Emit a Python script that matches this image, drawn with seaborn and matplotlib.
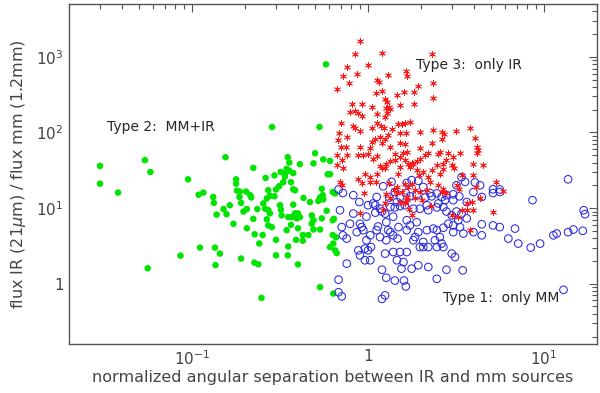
import numpy as np
import pandas as pd
import matplotlib
matplotlib.use('Agg')
import matplotlib.pyplot as plt
import seaborn as sns

# Type 2: MM+IR (green filled dots)
type2_sep = [0.030, 0.030, 0.038, 0.054, 0.058, 0.056, 0.095, 0.109, 0.116, 0.155,
             0.132, 0.133, 0.138, 0.151, 0.157, 0.164, 0.172, 0.178, 0.178, 0.180,
             0.187, 0.186, 0.190, 0.196, 0.205, 0.205, 0.203, 0.214, 0.217, 0.223,
             0.223, 0.227, 0.235, 0.241, 0.111, 0.135, 0.144, 0.086, 0.136, 0.190,
             0.226, 0.238, 0.248, 0.285, 0.53, 0.35, 0.357, 0.345, 0.41, 0.50,
             0.49, 0.557, 0.608, 0.59, 0.608, 0.262, 0.294, 0.319, 0.337, 0.357,
             0.376, 0.337, 0.33, 0.313, 0.30, 0.365, 0.376, 0.385, 0.271, 0.277,
             0.266, 0.294, 0.546, 0.553, 0.534, 0.522, 0.557, 0.63, 0.65, 0.43,
             0.468, 0.254, 0.26, 0.271, 0.277, 0.316, 0.32, 0.323, 0.376, 0.385,
             0.394, 0.40, 0.41, 0.394, 0.368, 0.352, 0.479, 0.49, 0.479, 0.546,
             0.582, 0.63, 0.64, 0.266, 0.271, 0.284, 0.365, 0.40, 0.345, 0.49,
             0.534, 0.458, 0.426, 0.426, 0.39, 0.252, 0.30, 0.63, 0.658, 0.352,
             0.608, 0.635, 0.65, 0.664, 0.30, 0.35, 0.40, 0.534, 0.635, 0.577]
type2_ratio = [36, 21, 16, 43, 30, 1.6, 24, 15, 16, 47,
               14, 11.7, 8.2, 9.7, 8.3, 10.9, 6.2, 24, 21, 17,
               16.5, 14, 11.7, 9, 9.7, 5.4, 16.5, 14.8, 13.8, 34,
               7.2, 4.5, 9.7, 3.4, 3.0, 3.0, 2.5, 2.35, 1.76, 2.15,
               1.9, 1.8, 0.65, 118, 118, 47, 40, 33, 38, 53,
               39, 44, 42, 28, 28, 25, 27, 30, 28, 31,
               29, 26, 22, 19.5, 17.6, 22, 17.7, 17.2, 17.2, 14.5,
               13.4, 14.3, 18, 14.8, 13.8, 12.4, 13, 16.3, 15.6, 13.6,
               12, 11.5, 9.8, 9.4, 8.5, 10.9, 9.5, 8.0, 11.1, 8.5,
               8.0, 8.5, 7.6, 7.3, 7.6, 7.6, 8.0, 6.9, 6.2, 7.3,
               9.2, 6.9, 7.2, 7.1, 5.9, 5.6, 6.0, 5.4, 5.1, 5.2,
               5.2, 4.4, 4.4, 3.7, 3.8, 4.4, 3.8, 4.4, 4.1, 3.1,
               3.05, 3.4, 2.76, 2.54, 2.37, 2.37, 1.8, 0.90, 0.74, 795]

# Type 1: only MM (blue open circles)
type1_sep = [0.68, 0.72, 1.22, 1.36, 1.66, 1.77, 1.93, 2.06, 3.18, 3.40,
             3.56, 4.05, 4.33, 5.13, 5.6, 13.7, 1.42, 1.64, 2.25,
             0.825, 1.12, 1.32, 1.52, 1.73, 1.89, 2.11, 2.30, 2.46, 2.62,
             2.79, 3.05, 3.30, 3.97, 4.43, 5.13, 5.6, 8.6,
             0.693, 0.825, 0.893, 1.0, 1.10, 1.17, 1.20, 1.34, 1.42, 1.52,
             1.62, 1.81, 1.97, 2.16, 2.20, 2.46, 2.68, 2.79, 2.99, 3.18,
             3.40, 4.43, 5.13, 5.6, 6.84, 6.27, 7.14, 8.4, 9.5, 11.3,
             11.8, 13.7, 14.7, 16.6, 16.8, 17.1,
             0.709, 0.757, 0.79, 0.863, 0.90, 0.92, 0.98, 1.03, 1.12, 1.14,
             1.17, 1.27, 1.30, 1.34, 1.39, 1.47, 1.49, 1.66, 1.66, 1.73,
             1.81, 1.85, 1.93, 2.06, 2.20, 2.16, 2.35, 2.46, 2.40, 2.56,
             2.62, 2.68, 3.05, 3.48, 3.97, 4.43,
             0.881, 0.90, 0.96, 1.0, 1.04, 0.96, 1.03, 1.25, 1.39, 1.52,
             1.66, 1.46, 1.59, 1.55, 1.77, 1.93, 1.97, 2.06, 2.46, 2.68,
             2.99, 3.12, 2.79, 3.45, 2.46, 2.20,
             0.68, 0.757, 1.20, 1.27, 1.42, 1.60, 1.64, 1.20, 1.25, 0.68,
             0.709, 12.9,
             1.07, 1.10, 1.25, 1.46, 2.51, 2.74, 3.05, 3.64, 3.64, 3.26,
             3.33, 3.05, 2.86, 1.89, 1.39, 1.27, 0.98, 0.94, 0.72]
type1_ratio = [17.6, 15.8, 19.4, 22.2, 21.5, 23.4, 22.9, 19, 20, 25.6,
               22.2, 21.8, 20, 17.7, 17.6, 24, 16.3, 15.8, 15.8,
               14.8, 14, 13.8, 14, 14.3, 14.8, 13.8, 14.3, 15.6, 14,
               14.8, 15.2, 14.3, 16.3, 14, 15.8, 16.3, 12.7,
               9.35, 8.45, 12, 10.9, 10.9, 9.8, 9.0, 10.3, 10.2, 10.6,
               10.9, 9.8, 9.8, 10.9, 9.35, 10.2, 10.3, 9.0, 8.0, 9.0,
               8.45, 6.1, 5.9, 5.6, 5.35, 3.95, 3.39, 3.0, 3.39, 4.36,
               4.6, 4.8, 5.2, 5.0, 9.35, 8.3,
               5.6, 3.95, 6.2, 4.8, 6.2, 5.6, 3.75, 4.36, 5.1, 5.7,
               4.14, 3.75, 5.1, 4.8, 4.36, 3.95, 5.6, 6.9, 5.1, 5.9,
               3.75, 4.14, 4.8, 3.56, 3.05, 5.1, 5.35, 5.1, 3.75, 4.14,
               3.39, 5.5, 4.8, 4.6, 4.8, 4.36,
               2.76, 2.37, 2.91, 2.76, 3.05, 2.04, 2.04, 2.5, 2.62, 2.62,
               2.62, 2.04, 1.93, 1.58, 1.58, 1.75, 3.05, 3.05, 3.05, 3.05,
               2.5, 2.25, 1.53, 1.5, 1.16, 1.66,
               1.13, 1.84, 1.53, 1.2, 1.1, 1.1, 0.92, 0.63, 0.70, 0.77,
               0.68, 0.83,
               11.5, 8.7, 8.45, 12, 11.5, 12.7, 12.7, 12, 7.3, 6.9,
               5.6, 5.9, 6.2, 6.5, 7.7, 6.5, 7.7, 5.1, 4.36]

# Type 3: only IR (red asterisks)
type3_sep = [0.90, 0.84, 1.20, 2.30, 0.757, 1.0, 0.718, 0.863, 0.78, 1.13,
             1.16, 1.30, 1.65, 1.66, 2.33, 1.92, 0.67,
             1.11, 1.20, 1.46, 1.25, 1.29, 1.61, 1.83, 2.33, 0.81, 0.92,
             1.05, 1.32, 1.51, 1.83, 0.79, 0.84, 0.88, 0.93, 1.25, 1.29,
             1.34, 1.12, 1.27,
             0.70, 0.825, 0.84, 0.90, 1.05, 1.13, 1.19, 1.24, 1.37, 1.49,
             1.55, 1.62, 1.73, 1.51, 1.65, 1.97, 2.35, 2.62, 3.15, 3.80,
             0.687, 0.757, 0.678, 0.70, 0.753, 0.90, 1.03, 1.05, 1.17, 1.20,
             1.34, 1.52, 1.62, 2.30, 2.64, 4.05, 4.15, 4.24, 1.30, 2.70,
             1.10, 1.25, 1.97,
             0.67, 0.757, 0.88, 0.94, 1.13, 1.07, 1.27, 1.34, 1.42, 1.52,
             1.59, 1.66, 1.62, 1.69, 1.81, 1.89, 1.97, 2.11, 2.20, 2.51,
             2.56, 2.86, 3.05, 2.68, 2.78, 2.99, 3.08, 3.97, 3.97, 4.52,
             0.67, 0.71, 0.96, 1.03, 1.12, 1.17, 1.20, 1.25, 1.52, 1.73,
             1.77, 1.89, 2.06, 2.20, 2.25, 0.693, 0.71, 0.88, 0.92, 1.03,
             1.11, 1.32, 5.36, 1.69, 1.0, 1.42, 3.33, 0.718, 1.49, 1.62,
             1.77, 1.96, 2.30, 2.46, 2.56, 2.68, 3.40, 2.51, 2.68, 3.19,
             1.46, 2.16, 4.15, 3.30, 4.11, 5.87,
             0.95, 1.27, 1.33, 1.41, 1.46, 1.52, 1.25, 1.66, 1.62, 1.55,
             1.66, 1.78, 1.85, 2.02, 2.28, 0.90, 1.22, 1.72, 2.99, 3.26,
             3.64, 3.88, 4.33, 3.64, 3.97, 5.13, 3.80, 2.62, 2.78, 1.85,
             1.97, 3.40]
type3_ratio = [1630, 1085, 1110, 1085, 739, 771, 551, 598, 457, 493,
               468, 569, 654, 551, 457, 410, 371,
               335, 356, 312, 274, 254, 342, 342, 282, 235, 235,
               214, 214, 228, 237, 188, 193, 179, 164, 161, 179,
               202, 173, 208,
               132, 121, 113, 104, 115, 132, 121, 113, 110, 129,
               129, 134, 138, 98.8, 98.8, 102, 107, 102, 104, 113,
               97, 87.5, 79, 64.4, 64.4, 64, 62.5, 75, 87.5, 71.4,
               64.4, 71.4, 70, 72, 80.8, 83.3, 64.4, 58.3, 92, 95,
               80.8, 80.8, 61.4,
               50, 50, 50, 50, 48.5, 43.9, 38.8, 42, 43, 47.5,
               52.7, 55.3, 43, 38.8, 38.8, 41.7, 43.9, 50, 52.7, 51.6,
               55.3, 52.7, 47.5, 38.8, 43, 36.9, 33.4, 38.8, 27.2, 36.9,
               36.9, 43, 28.6, 25.8, 28.6, 35.8, 33.4, 34, 35, 35,
               39.6, 31.7, 30, 25.8, 22.2, 22.2, 20, 24.3, 21.5, 22.2,
               22.2, 21.5, 22.2, 19, 51.6, 51.6, 52.7, 33.4, 28.6, 21.1,
               21.1, 27.2, 31.7, 36.9, 28.6, 32.4, 27.2, 20, 18.1, 20,
               19, 17.2, 53.7, 17.6, 18.7, 16.7,
               16, 15.4, 13.7, 17.2, 15.6, 12, 11.5, 12.7, 11.5, 16.3,
               14, 8.0, 13.4, 12.7, 10.6, 8.6, 9.35, 9.8, 8.0, 7.7,
               11.7, 12, 13.7, 9.35, 9.35, 9.0, 5.2, 16.3, 15.6, 17.2,
               16.3, 9.35]

xtick_vals = [0.1, 1, 10]
xtick_labels = ['$10^{-1}$', '1', '$10^{1}$']
ytick_vals = [1, 10, 100, 1000]
ytick_labels = ['1', '$10^{1}$', '$10^{2}$', '$10^{3}$']

df = pd.concat([
    pd.DataFrame({'sep': type2_sep, 'ratio': type2_ratio, 'kind': 'Type 2'}),
    pd.DataFrame({'sep': type1_sep, 'ratio': type1_ratio, 'kind': 'Type 1'}),
    pd.DataFrame({'sep': type3_sep, 'ratio': type3_ratio, 'kind': 'Type 3'}),
], ignore_index=True)

sns.set_style('white')
plt.rcParams['font.family'] = ['DejaVu Sans']
plt.rcParams['mathtext.fontset'] = 'dejavusans'

fig = plt.figure(figsize=(6, 3.93), dpi=100)
ax = fig.add_axes([0.115, 0.125, 0.88, 0.865])

sns.scatterplot(data=df[df.kind == 'Type 2'], x='sep', y='ratio', ax=ax,
                color='#00e400', s=22, edgecolor='none', marker='o', legend=False)
sns.scatterplot(data=df[df.kind == 'Type 1'], x='sep', y='ratio', ax=ax,
                facecolors='none', edgecolor='#2a2ae0', s=30, linewidth=0.75,
                marker='o', legend=False)
sns.scatterplot(data=df[df.kind == 'Type 3'], x='sep', y='ratio', ax=ax,
                color='#ff1a1a', s=20, linewidth=0.6, marker=(6, 2, 0), legend=False)

ax.set_xscale('log')
ax.set_yscale('log')
ax.set_xlim(0.02, 20)
ax.set_ylim(0.16, 5000)

ax.set_xticks(xtick_vals)
ax.set_xticklabels(xtick_labels)
ax.set_yticks(ytick_vals)
ax.set_yticklabels(ytick_labels)

grey = '#555555'
for sp in ax.spines.values():
    sp.set_color(grey)
    sp.set_linewidth(1.0)
ax.tick_params(which='both', direction='in', top=True, right=True, color=grey,
               labelcolor='#444444', labelsize=11)
ax.tick_params(which='major', length=6, width=0.8, pad=4)
ax.tick_params(which='minor', length=3.5, width=0.8)

ax.set_xlabel('normalized angular separation between IR and mm sources',
              fontsize=11.5, color='#444444', labelpad=1)
ax.set_ylabel('flux IR (21$\\mu$m) / flux mm (1.2mm)',
              fontsize=11.5, color='#444444', labelpad=6)

ax.text(0.033, 117, 'Type 2:  MM+IR', fontsize=10, va='center', ha='left')
ax.text(1.87, 780, 'Type 3:  only IR', fontsize=10, va='center', ha='left')
ax.text(2.67, 0.64, 'Type 1:  only MM', fontsize=10, va='center', ha='left')

fig.savefig('out.png', dpi=100)
